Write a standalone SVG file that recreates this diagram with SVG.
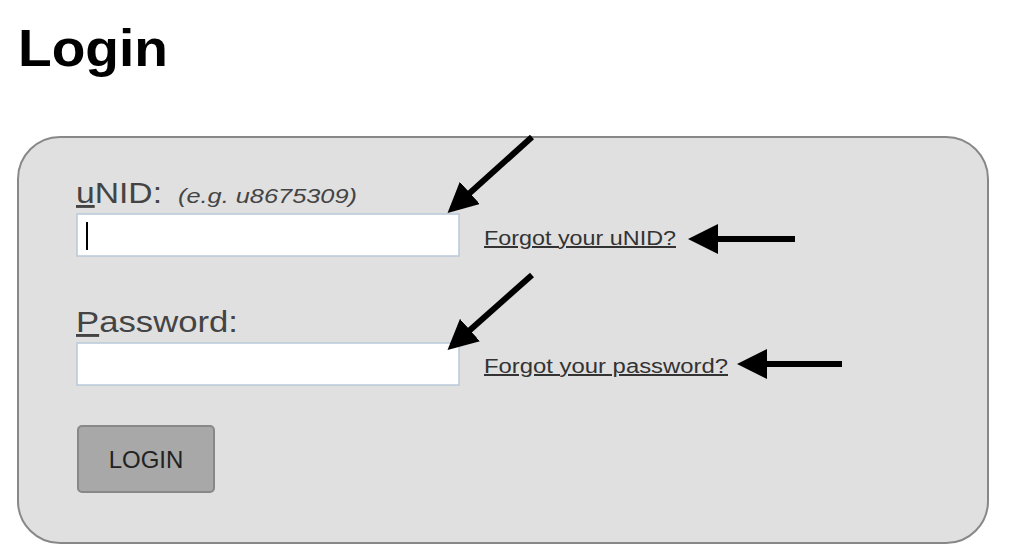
<svg xmlns="http://www.w3.org/2000/svg" width="1012" height="559" viewBox="0 0 1012 559">
<defs>
<style>
.lbl{font-family:"Liberation Sans",Arial,sans-serif;font-size:29px;fill:#444}
.lnk{font-family:"Liberation Sans",Arial,sans-serif;font-size:20px;fill:#333;text-decoration:underline}
.inp{fill:#fff;stroke:#b8c8d8;stroke-width:1.5}
.arr{stroke:#000;stroke-width:6;fill:none;marker-end:url(#ah)}
</style>
<marker id="ah" markerWidth="5" markerHeight="5" refX="4" refY="2.5" orient="auto" markerUnits="strokeWidth">
<path d="M0,0 L5,2.5 L0,5 Z" fill="#000"/>
</marker>
</defs>
<rect width="1012" height="559" fill="#fff"/>
<text x="18" y="66" font-family="Liberation Sans,Arial,sans-serif" font-size="52" font-weight="bold" fill="#000" textLength="150" lengthAdjust="spacingAndGlyphs">Login</text>
<rect x="18" y="137" width="970" height="406" rx="42" fill="#e0e0e0" stroke="#888" stroke-width="2"/>
<g id="unid">
<text x="76" y="203" class="lbl" textLength="86" lengthAdjust="spacingAndGlyphs"><tspan text-decoration="underline">u</tspan>NID:</text>
<text x="178" y="203" font-family="Liberation Sans,Arial,sans-serif" font-size="20" font-style="italic" fill="#444" textLength="179" lengthAdjust="spacingAndGlyphs">(e.g. u8675309)</text>
<rect x="77" y="214" width="382" height="42" class="inp"/>
<line x1="87" y1="222" x2="87" y2="250" stroke="#000" stroke-width="2"/>
<text x="484" y="245" class="lnk" textLength="192" lengthAdjust="spacingAndGlyphs">Forgot your uNID?</text>
</g>
<g id="password">
<text x="76" y="332" class="lbl" textLength="162" lengthAdjust="spacingAndGlyphs"><tspan text-decoration="underline">P</tspan>assword:</text>
<rect x="77" y="343" width="382" height="42" class="inp"/>
<text x="484" y="373" class="lnk" textLength="244" lengthAdjust="spacingAndGlyphs">Forgot your password?</text>
</g>
<g id="login-button">
<rect x="78" y="426" width="136" height="66" rx="4" fill="#a8a8a8" stroke="#888" stroke-width="2"/>
<text x="146" y="468" text-anchor="middle" font-family="Liberation Sans,Arial,sans-serif" font-size="24" fill="#222">LOGIN</text>
</g>
<g id="connectors">
<line x1="532" y1="137" x2="452" y2="209" class="arr"/>
<line x1="532" y1="275" x2="452" y2="346" class="arr"/>
<line x1="795" y1="239" x2="694" y2="239" class="arr"/>
<line x1="842" y1="364" x2="743" y2="364" class="arr"/>
</g>
</svg>
